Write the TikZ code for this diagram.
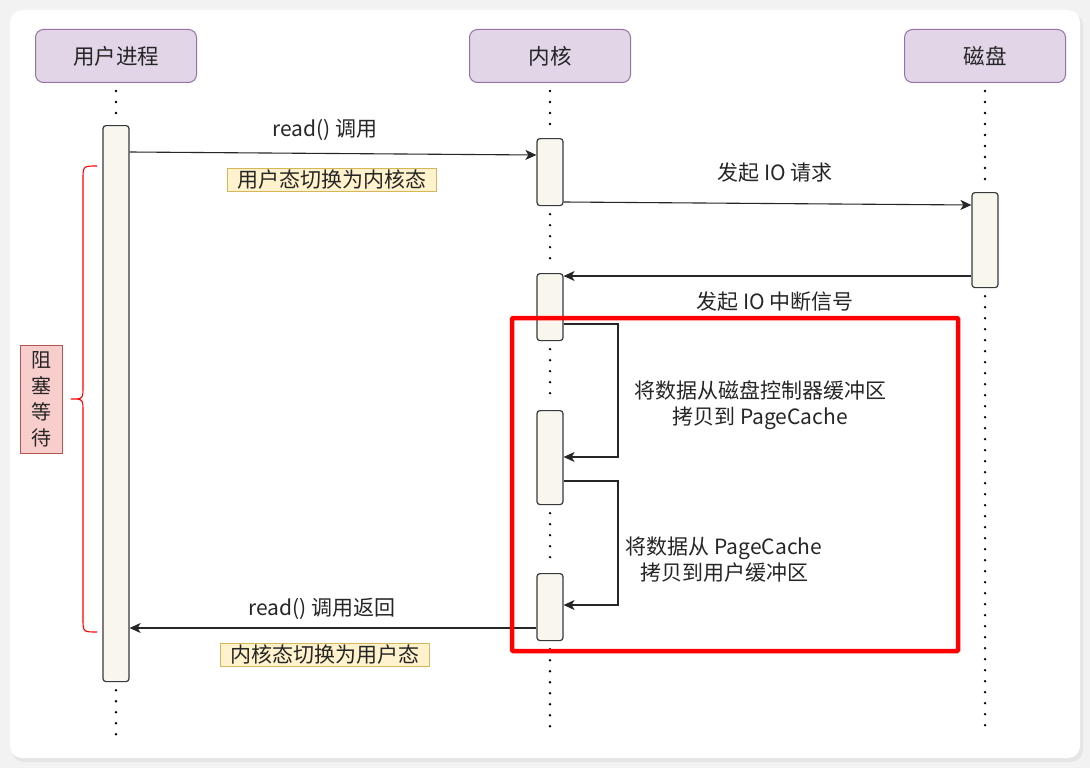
\documentclass[tikz,border=0pt]{standalone}
\usepackage{fontspec}
\setmainfont{Noto Sans CJK SC}
\usetikzlibrary{arrows.meta,calc}
\definecolor{hdrfill}{HTML}{E1D5E7}
\definecolor{hdrdraw}{HTML}{9673A6}
\definecolor{barfill}{HTML}{F9F7ED}
\definecolor{bardraw}{HTML}{36393D}
\definecolor{yfill}{HTML}{FFF2CC}
\definecolor{ydraw}{HTML}{D6B656}
\definecolor{pfill}{HTML}{F8CECC}
\definecolor{pdraw}{HTML}{B85450}
\definecolor{bg}{HTML}{F2F2F2}
\tikzset{
  header/.style={draw=hdrdraw, fill=hdrfill, line width=1pt, rounded corners=8pt,
    minimum width=161pt, minimum height=53pt, inner sep=0pt,
    font=\fontsize{21.5}{26}\selectfont, text=black!85},
  actbar/.style={draw=bardraw, fill=barfill, line width=1.2pt, rounded corners=3pt,
    minimum width=26pt, inner sep=0pt, anchor=north},
  life/.style={line width=2.6pt, line cap=round, dash pattern=on 0pt off 11pt, black},
  msg/.style={line width=1.1pt, black!85, -{Stealth[length=11pt,width=10pt,inset=3pt]}},
  lbl/.style={font=\fontsize{21}{26}\selectfont, text=black!85, inner sep=0pt, align=center},
  note/.style={draw=ydraw, fill=yfill, line width=1pt, inner xsep=10pt, inner ysep=2pt,
    font=\fontsize{21}{25}\selectfont, text=black!85},
}
\begin{document}
\begin{tikzpicture}[x=1pt,y=-1pt]
\useasboundingbox (0,0) rectangle (1090,768);
% background card
\fill[bg] (0,0) rectangle (1090,768);
\fill[black!10, rounded corners=12pt] (12,13) rectangle (1083,762);
\fill[white, rounded corners=12pt] (10,10) rectangle (1080,758);

% headers
\node[header] (hu) at (116,56) {用户进程};
\node[header] (hk) at (550,56) {内核};
\node[header] (hd) at (985,56) {磁盘};

% activation bars
\node[actbar, minimum height=556pt] (ub) at (116,125) {};
\node[actbar, minimum height=67pt] (kb1) at (550,138) {};
\node[actbar, minimum height=95pt] (db) at (985,192) {};
\node[actbar, minimum height=67pt] (kb2) at (550,273) {};
\node[actbar, minimum height=94pt] (kb3) at (550,410) {};
\node[actbar, minimum height=67pt] (kb4) at (550,573) {};

% end points of lifelines
\coordinate (ue) at (116,737);
\coordinate (ke) at (550,730);
\coordinate (de) at (985,730);

% lifelines
\draw[life] ([yshift=-8pt]hu.south) -- ([yshift=6pt]ub.north);
\draw[life] ([yshift=-8pt]ub.south) -- (ue);
\draw[life] ([yshift=-8pt]hk.south) -- ([yshift=6pt]kb1.north);
\draw[life] ([yshift=-8pt]kb1.south) -- ([yshift=6pt]kb2.north);
\draw[life] ([yshift=-8pt]kb2.south) -- ([yshift=6pt]kb3.north);
\draw[life] ([yshift=-8pt]kb3.south) -- ([yshift=6pt]kb4.north);
\draw[life] ([yshift=-8pt]kb4.south) -- (ke);
\draw[life] ([yshift=-8pt]hd.south) -- ([yshift=6pt]db.north);
\draw[life] ([yshift=-8pt]db.south) -- (de);

% messages
\draw[msg] (ub.east |- 0,152) -- (kb1.west |- 0,155);
\node[lbl] (l1) at (325,130) {read() 调用};
\node[note] (n1) at (332,180) {用户态切换为内核态};

\draw[msg] (kb1.east |- 0,202) -- (db.west |- 0,205);
\node[lbl] (l2) at (775,173) {发起 IO 请求};

\draw[msg] (db.west |- 0,276) -- (kb2.east |- 0,276);
\node[lbl] (l3) at (775,302) {发起 IO 中断信号};

\draw[msg] (kb2.east |- 0,324) -- (618,324) |- (kb3.east |- 0,457);
\node[lbl] (l4) at (760,405) {将数据从磁盘控制器缓冲区\\拷贝到 PageCache};

\draw[msg] (kb3.east |- 0,481) -- (618,481) |- (kb4.east |- 0,605);
\node[lbl] (l5) at (724,560) {将数据从 PageCache\\拷贝到用户缓冲区};

\draw[msg] (kb4.west |- 0,628) -- (ub.east |- 0,628);
\node[lbl] (l6) at (322,609) {read() 调用返回};
\node[note] (n2) at (325,655) {内核态切换为用户态};

% red highlight
\draw[red, line width=4.5pt, rounded corners=1pt] (512,318) rectangle (958,651);

% brace
\draw[red, line width=1.1pt] (97,166) .. controls (83,166) .. (83,180) -- (83,386)
  .. controls (83,399) .. (71,399) .. controls (83,399) .. (83,412) -- (83,618)
  .. controls (83,632) .. (97,632);
\node[draw=pdraw, fill=pfill, line width=1pt, minimum width=42pt, minimum height=108pt,
  inner sep=0pt, align=center, font=\fontsize{20}{26}\selectfont, text=black!85] (wait) at (41,399) {阻\\塞\\等\\待};
\end{tikzpicture}
\end{document}
